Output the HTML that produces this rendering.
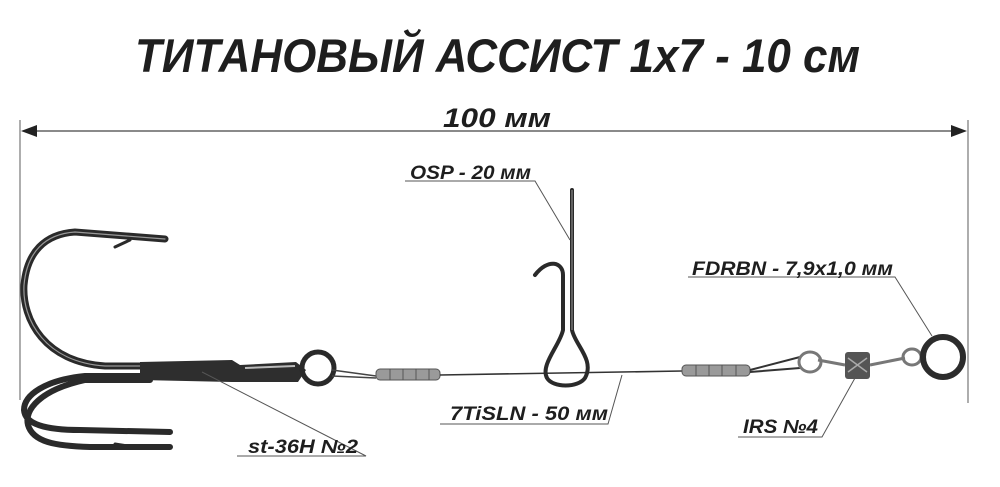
<!DOCTYPE html>
<html><head><meta charset="utf-8"><style>
html,body{margin:0;padding:0;background:#fff;}
svg{display:block;}
text{font-family:"Liberation Sans Narrow","Liberation Sans",sans-serif;font-weight:bold;font-style:italic;fill:#1e1e1e;}
</style></head><body>
<svg width="1000" height="487" viewBox="0 0 1000 487" xmlns="http://www.w3.org/2000/svg">
<text x="135" y="72" font-size="47" textLength="725" lengthAdjust="spacingAndGlyphs">ТИТАНОВЫЙ АССИСТ 1x7 - 10 см</text>
<text x="443" y="127" font-size="27" textLength="108" lengthAdjust="spacingAndGlyphs">100 мм</text>
<line x1="20" y1="120" x2="20" y2="400" stroke="#777" stroke-width="1.2"/>
<line x1="968" y1="120" x2="968" y2="403" stroke="#777" stroke-width="1.2"/>
<line x1="24" y1="131" x2="964" y2="131" stroke="#444" stroke-width="1.3"/>
<polygon points="21,131 37,125 37,137" fill="#222"/>
<polygon points="967,131 951,125 951,137" fill="#222"/>
<g fill="none" stroke="#2a2a2a" stroke-linecap="round">
<path d="M150,366 L105,366 C45,362 22,320 24,285 C27,252 45,234 75,232 L165,239" stroke-width="7"/>
<path d="M150,366 L105,366 C45,362 22,320 24,285 C27,252 45,234 75,232 L165,239" stroke="#999" stroke-width="1.2"/>
<path d="M115,247 L130,240" stroke-width="3"/>
<path d="M150,376 L85,376 C45,380 24,395 24,410 C25,424 45,430 80,430 L170,432" stroke-width="6"/>
<path d="M150,380 L85,380 C40,390 24,410 28,425 C33,442 55,446 90,447 L170,447" stroke-width="6"/>
<path d="M115,444 L128,446" stroke-width="3"/>
</g>
<path d="M140,362 L232,360 L240,365 L296,362 L306,370 L298,382 L232,382 L140,380 Z" fill="#2e2e2e"/>
<path d="M245,368 L295,366" stroke="#bbb" stroke-width="2"/>
<circle cx="318" cy="368" r="16" fill="none" stroke="#2a2a2a" stroke-width="5"/>
<path d="M332,370 L376,376 M332,376 L376,378" stroke="#444" stroke-width="1.5" fill="none"/>
<rect x="376" y="369" width="64" height="11" rx="4" fill="#9a9a9a" stroke="#555"/>
<path d="M390,369v11M403,369v11M416,369v11M429,369v11" stroke="#555"/>
<path d="M440,375 L682,371" stroke="#333" stroke-width="1.6"/>
<rect x="682" y="365" width="68" height="11" rx="4" fill="#9a9a9a" stroke="#555"/>
<path d="M696,365v11M709,365v11M722,365v11M736,365v11" stroke="#555"/>
<path d="M750,370 L800,357 M750,372 L800,368" stroke="#333" stroke-width="2" fill="none"/>
<ellipse cx="810" cy="362" rx="11" ry="10" fill="none" stroke="#777" stroke-width="3"/>
<path d="M818,360 L845,365" stroke="#777" stroke-width="3"/>
<rect x="845" y="352" width="25" height="27" rx="3" fill="#555"/>
<path d="M848,358 L867,372 M848,372 L867,358" stroke="#aaa" stroke-width="1.5"/>
<path d="M870,365 L905,358" stroke="#777" stroke-width="3"/>
<ellipse cx="912" cy="357" rx="9" ry="8" fill="none" stroke="#777" stroke-width="3"/>
<circle cx="943" cy="357" r="20" fill="none" stroke="#2c2c2c" stroke-width="6"/>
<g fill="none" stroke="#2a2a2a" stroke-width="4" stroke-linecap="round">
<path d="M572,190 L572,330 C575,345 595,360 585,378 C578,388 553,388 547,378 C540,365 560,345 563,330 L563,275 C563,262 548,258 535,275"/>
</g>
<path d="M572,190 L572,330" stroke="#999" stroke-width="1"/>
<g stroke="#555" stroke-width="1" fill="none">
<path d="M405,181 L535,181 L570,240"/>
<path d="M440,424 L608,424 L622,375"/>
<path d="M237,456 L366,456 L202,372" />
<path d="M688,277 L895,277 L932,336"/>
<path d="M738,437 L822,437 L855,378"/>
</g>
<text x="410" y="179" font-size="19" textLength="121" lengthAdjust="spacingAndGlyphs">OSP - 20 мм</text>
<text x="450" y="420" font-size="19" textLength="158" lengthAdjust="spacingAndGlyphs">7TiSLN - 50 мм</text>
<text x="248" y="453" font-size="19" textLength="110" lengthAdjust="spacingAndGlyphs">st-36H №2</text>
<text x="692" y="275" font-size="19" textLength="201" lengthAdjust="spacingAndGlyphs">FDRBN - 7,9x1,0 мм</text>
<text x="743" y="433" font-size="19" textLength="75" lengthAdjust="spacingAndGlyphs">IRS №4</text>
</svg>
</body></html>
